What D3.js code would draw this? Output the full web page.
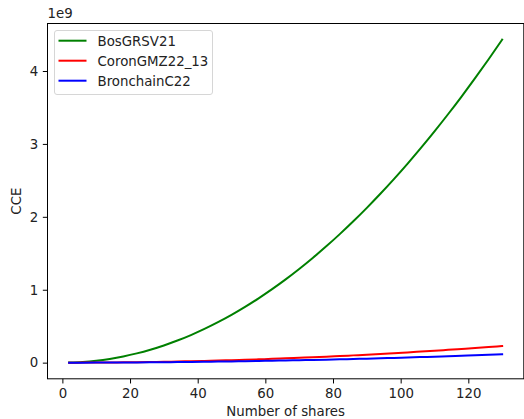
<!DOCTYPE html>
<html>
<head>
<meta charset="utf-8">
<script src="https://cdn.jsdelivr.net/npm/d3@7"></script>
<style>
  html, body { margin: 0; padding: 0; background: #fff; }
  svg { display: block; font-family: "DejaVu Sans", sans-serif; }
</style>
</head>
<body>
<svg id="chart" width="524" height="419"></svg>
<script>
// Data (values in units of 1e9)
const shares = [2, 6, 10, 14, 18, 22, 26, 30, 34, 38, 42, 46, 50, 54, 58, 62, 66, 70, 74, 78, 82, 86, 90, 94, 98, 102, 106, 110, 114, 118, 122, 126, 130];
const bosGRSV21 = [0.00105, 0.00944, 0.0262, 0.0514, 0.0849, 0.1269, 0.1772, 0.2359, 0.3030, 0.3785, 0.4624, 0.5547, 0.6553, 0.7644, 0.8818, 1.0076, 1.1418, 1.2844, 1.4354, 1.5948, 1.7626, 1.9387, 2.1233, 2.3162, 2.5175, 2.7272, 2.9453, 3.1718, 3.4067, 3.6499, 3.9016, 4.1616, 4.43];
const coronGMZ22_13 = [0.000054, 0.000486, 0.00135, 0.00264, 0.00437, 0.00653, 0.00912, 0.01214, 0.01560, 0.01948, 0.02380, 0.02855, 0.03373, 0.03934, 0.04538, 0.05186, 0.05876, 0.06610, 0.07387, 0.08207, 0.09071, 0.09977, 0.10927, 0.11920, 0.12956, 0.14035, 0.15158, 0.16323, 0.17532, 0.18784, 0.20079, 0.21417, 0.228];
const bronchainC22 = [0.000027, 0.000245, 0.00068, 0.00133, 0.00220, 0.00329, 0.00460, 0.00612, 0.00787, 0.00983, 0.01200, 0.01440, 0.01701, 0.01984, 0.02289, 0.02616, 0.02964, 0.03334, 0.03726, 0.04140, 0.04576, 0.05033, 0.05512, 0.06013, 0.06535, 0.07080, 0.07646, 0.08234, 0.08844, 0.09475, 0.10128, 0.10803, 0.115];
const seriesNames = ["BosGRSV21", "CoronGMZ22_13", "BronchainC22"];
const seriesColors = ["#008000", "#ff0000", "#0000ff"];
const xTicks = [0, 20, 40, 60, 80, 100, 120];
const yTicks = [0, 1, 2, 3, 4];
const yOffsetLabel = "1e9";
const xLabel = "Number of shares";
const yLabel = "CCE";

const seriesValues = [bosGRSV21, coronGMZ22_13, bronchainC22];

const svg = d3.select("#chart");
const L = 47.5, R = 523.8, T = 23.5, B = 378.8;

// matplotlib-like 5% margins
const xMin = d3.min(shares), xMax = d3.max(shares);
const xm = (xMax - xMin) * 0.05;
const allY = seriesValues.flat();
const yMin = Math.min(0, d3.min(allY)), yMax = d3.max(allY);
const ym = (yMax - yMin) * 0.05;

const x = d3.scaleLinear().domain([xMin - xm, xMax + xm]).range([L, R]);
const y = d3.scaleLinear().domain([yMin - ym, yMax + ym]).range([B, T]);

const fs = 13.33;

// Lines
const line = d3.line().x(d => x(d[0])).y(d => y(d[1])).curve(d3.curveMonotoneX);
seriesValues.forEach((vals, i) => {
  svg.append("path")
    .datum(shares.map((s, j) => [s, vals[j]]))
    .attr("fill", "none")
    .attr("stroke", seriesColors[i])
    .attr("stroke-width", 2)
    .attr("stroke-linecap", "square")
    .attr("d", line);
});

// Axes
const xAxis = d3.axisBottom(x).tickValues(xTicks).tickSize(4.67).tickPadding(4.67).tickFormat(d3.format("d"));
const yAxis = d3.axisLeft(y).tickValues(yTicks).tickSize(4.67).tickPadding(4.67).tickFormat(d3.format("d"));

const gx = svg.append("g").attr("transform", `translate(0,${B})`).call(xAxis);
const gy = svg.append("g").attr("transform", `translate(${L},0)`).call(yAxis);
[gx, gy].forEach(g => {
  g.select(".domain").remove();
  g.selectAll("line").attr("stroke", "#000").attr("stroke-width", 1);
  g.selectAll("text").attr("font-size", fs).attr("fill", "#222").attr("font-family", "DejaVu Sans, sans-serif");
});

// Frame
svg.append("rect")
  .attr("x", L).attr("y", T).attr("width", R - L).attr("height", B - T)
  .attr("fill", "none").attr("stroke", "#000").attr("stroke-width", 1);

// Offset label
svg.append("text").attr("x", L).attr("y", 18).attr("font-size", fs).attr("fill", "#222").text(yOffsetLabel);

// Axis labels
svg.append("text").attr("x", (L + R) / 2).attr("y", 416).attr("text-anchor", "middle")
  .attr("font-size", fs).attr("fill", "#222").text(xLabel);
svg.append("text").attr("transform", `translate(21,${(T + B) / 2}) rotate(-90)`)
  .attr("text-anchor", "middle").attr("font-size", fs).attr("fill", "#222").text(yLabel);

// Legend
const lg = svg.append("g");
lg.append("rect").attr("x", 54.5).attr("y", 30.5).attr("width", 158).attr("height", 64)
  .attr("rx", 2.5).attr("fill", "#fff").attr("fill-opacity", 0.8)
  .attr("stroke", "#d6d6d6").attr("stroke-width", 1);
seriesNames.forEach((name, i) => {
  const cy = 40.7 + i * 20;
  lg.append("line").attr("x1", 58.5).attr("x2", 86.5).attr("y1", cy).attr("y2", cy)
    .attr("stroke", seriesColors[i]).attr("stroke-width", 2);
  lg.append("text").attr("x", 97.5).attr("y", cy + 4.8).attr("font-size", fs).attr("fill", "#222").text(name);
});
</script>
</body>
</html>
